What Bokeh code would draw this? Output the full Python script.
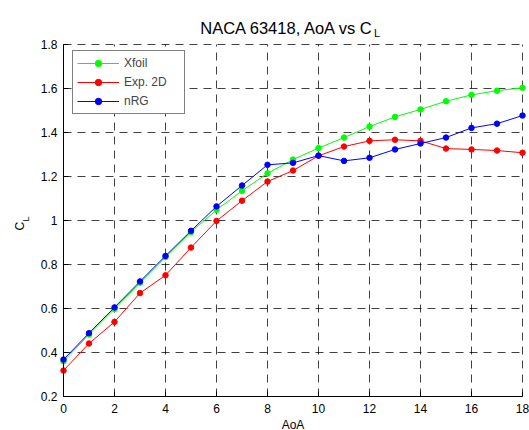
import math
from bokeh.plotting import figure
from bokeh.models import Range1d, FixedTicker, Label, Legend, LegendItem, Grid
from bokeh.embed import file_html
from bokeh.resources import INLINE

# ---- data ----
aoa = list(range(19))
xfoil = [0.360, 0.482, 0.598, 0.717, 0.834, 0.948, 1.048, 1.135, 1.214, 1.277,
         1.329, 1.377, 1.427, 1.471, 1.505, 1.542, 1.571, 1.590, 1.603]
exp2d = [0.318, 0.441, 0.539, 0.670, 0.751, 0.877, 0.998, 1.090, 1.177, 1.227,
         1.294, 1.336, 1.362, 1.367, 1.362, 1.327, 1.323, 1.318, 1.308]
nrg = [0.368, 0.488, 0.605, 0.723, 0.839, 0.953, 1.064, 1.159, 1.253, 1.262,
       1.295, 1.271, 1.285, 1.323, 1.350, 1.377, 1.421, 1.440, 1.477]

series_names = ["Xfoil", "Exp. 2D", "nRG"]
series_colors = ["#00ff00", "#ff0000", "#0000ff"]

x_ticks = [0, 2, 4, 6, 8, 10, 12, 14, 16, 18]
x_tick_labels = ["0", "2", "4", "6", "8", "10", "12", "14", "16", "18"]
y_ticks = [0.2, 0.4, 0.6, 0.8, 1.0, 1.2, 1.4, 1.6, 1.8]
y_tick_labels = ["0.2", "0.4", "0.6", "0.8", "1", "1.2", "1.4", "1.6", "1.8"]
x_lim = (0, 18)
y_lim = (0.2, 1.8)

title_main = "NACA 63418, AoA vs C"
title_sub = "L"
x_label = "AoA"
y_label_main = "C"
y_label_sub = "L"

FONT = "Liberation Sans"

# layout: the frame fills the whole canvas; the axes box sits inside it
W, H = 529, 430
PAD_L, PAD_R, PAD_T, PAD_B = 63, 7, 44, 34
sx = (W - PAD_L - PAD_R) / (x_lim[1] - x_lim[0])
sy = (H - PAD_T - PAD_B) / (y_lim[1] - y_lim[0])
x_range = Range1d(x_lim[0] - PAD_L / sx, x_lim[1] + PAD_R / sx)
y_range = Range1d(y_lim[0] - PAD_B / sy, y_lim[1] + PAD_T / sy)

p = figure(width=W, height=H, output_backend="svg", toolbar_location=None,
           x_range=x_range, y_range=y_range, min_border=0)
p.outline_line_color = None
p.background_fill_color = "white"
p.border_fill_color = "white"

xax, yax = p.xaxis[0], p.yaxis[0]
xax.fixed_location = y_lim[0]
yax.fixed_location = x_lim[0]
xax.bounds = x_lim
yax.bounds = y_lim
for ax, ticks, labels in ((xax, x_ticks, x_tick_labels), (yax, y_ticks, y_tick_labels)):
    ax.ticker = FixedTicker(ticks=ticks)
    ax.major_label_overrides = {t: l for t, l in zip(ticks, labels)}
    ax.major_tick_in = 5
    ax.major_tick_out = 0
    ax.minor_tick_in = 0
    ax.minor_tick_out = 0
    ax.axis_line_color = "black"
    ax.axis_line_width = 1
    ax.major_tick_line_color = "black"
    ax.major_label_text_font = FONT
    ax.major_label_text_font_size = "12px"
    ax.major_label_text_color = "black"
xax.major_label_standoff = 7
yax.major_label_standoff = 6

has_cb = "cross_bounds" in Grid.properties()
for g, ticks, b, cb in ((p.xgrid[0], x_ticks, x_lim, y_lim), (p.ygrid[0], y_ticks, y_lim, x_lim)):
    g.ticker = FixedTicker(ticks=ticks)
    g.bounds = b
    if has_cb:
        g.cross_bounds = cb
    g.grid_line_color = "black"
    g.grid_line_alpha = 0.75
    g.grid_line_width = 1
    g.grid_line_dash = "8 6"

if not has_cb:
    p.xgrid.visible = False
    p.ygrid.visible = False
    p.multi_line([[t, t] for t in x_ticks], [list(y_lim)] * len(x_ticks),
                 line_color="black", line_alpha=0.75, line_dash="8 6", line_width=1, level="underlay")
    p.multi_line([list(x_lim)] * len(y_ticks), [[t, t] for t in y_ticks],
                 line_color="black", line_alpha=0.75, line_dash="8 6", line_width=1, level="underlay")

items = []
for name, col, ys in zip(series_names, series_colors, [xfoil, exp2d, nrg]):
    ln = p.line(aoa, ys, line_color=col, line_width=1)
    sc = p.scatter(aoa, ys, size=5.5, marker="circle", fill_color=col, line_color=col)
    items.append(LegendItem(label=name, renderers=[ln, sc]))

LEG_PAD, LEG_ROW, LEG_SP = 4, 16, 3
leg_h = 3 * LEG_ROW + 2 * LEG_SP + 2 * LEG_PAD
legend = Legend(items=items, location=(72, H - 52 - leg_h), padding=LEG_PAD,
                glyph_width=42, glyph_height=LEG_ROW, label_height=LEG_ROW, spacing=LEG_SP,
                label_standoff=5, label_width=56,
                label_text_font=FONT, label_text_font_size="12px",
                border_line_color="black", border_line_width=1.5,
                background_fill_color="white", background_fill_alpha=1)
p.add_layout(legend)

xm = (x_lim[0] + x_lim[1]) / 2
# title with subscript
p.add_layout(Label(x=xm, y=y_lim[1], x_offset=81.5, y_offset=17, text=title_main,
                   text_align="right", text_baseline="alphabetic",
                   text_font=FONT, text_font_size="16.5px", text_color="black"))
p.add_layout(Label(x=xm, y=y_lim[1], x_offset=81, y_offset=12, text=title_sub,
                   text_align="left", text_baseline="alphabetic",
                   text_font=FONT, text_font_size="11px", text_color="black"))
# x label
p.add_layout(Label(x=xm, y=y_lim[0], y_offset=-28, text=x_label,
                   text_align="center", text_baseline="alphabetic",
                   text_font=FONT, text_font_size="12px", text_color="black"))
# y label with subscript
p.add_layout(Label(x=x_lim[0], y=1.0, x_offset=-44, y_offset=-10, text=y_label_main,
                   angle=math.pi / 2, text_align="left", text_baseline="alphabetic",
                   text_font=FONT, text_font_size="12px", text_color="black"))
p.add_layout(Label(x=x_lim[0], y=1.0, x_offset=-38, y_offset=-1, text=y_label_sub,
                   angle=math.pi / 2, text_align="left", text_baseline="alphabetic",
                   text_font=FONT, text_font_size="9px", text_color="black"))

open("out.html", "w").write(file_html(p, INLINE))
